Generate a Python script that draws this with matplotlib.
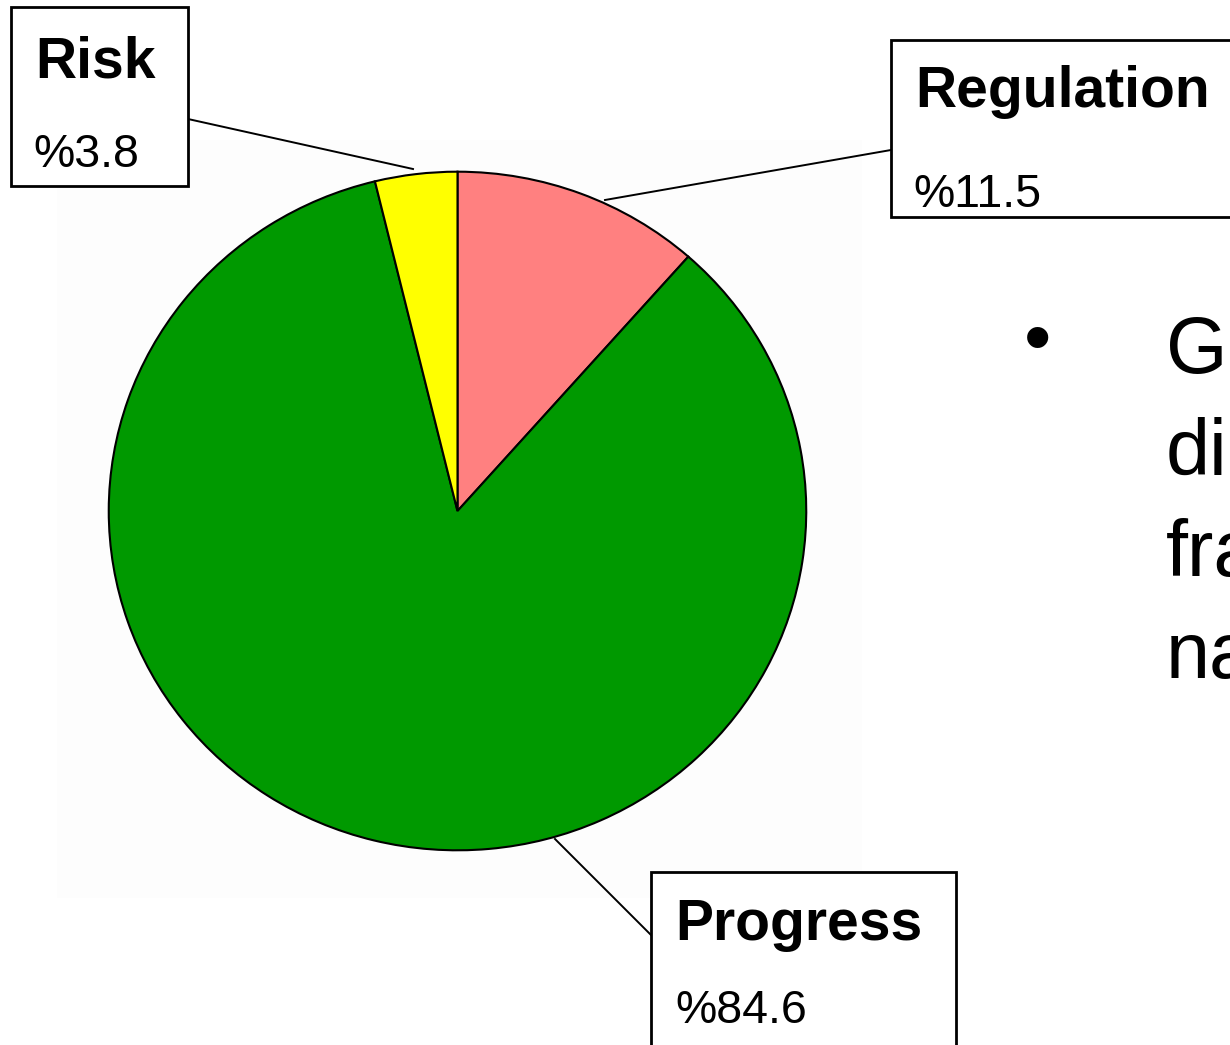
import matplotlib.pyplot as plt
from matplotlib.patches import Rectangle

# dilimler (saat yönünde, tepeden başlayarak)
etiketler = ['Regulation', 'Progress', 'Risk']
yuzdeler = [11.5, 84.6, 3.8]
renkler = ['#FF8080', '#009900', '#FFFF00']
yuzde_metin = ['%11.5', '%84.6', '%3.8']
madde_satirlari = ['G', 'di', 'fra', 'na']

W, H = 1230, 1045
fig = plt.figure(figsize=(W / 100, H / 100), dpi=100)
fig.patch.set_facecolor('white')

# piksel koordinatli ust katman
ax = fig.add_axes([0, 0, 1, 1])
ax.set_xlim(0, W)
ax.set_ylim(H, 0)
ax.axis('off')

# cok soluk arka plan
ax.add_patch(Rectangle((57, 140), 805, 758, facecolor='#fdfdfd', edgecolor='none', zorder=0))

# etiket kutulari: (sol, ust, sag, alt), baslik taban cizgisi, yuzde taban cizgisi
kutular = {
    'Risk': ((11, 7, 188, 186), (35, 77), (33, 167)),
    'Regulation': ((891, 40, 1260, 217), (915, 107), (913, 207)),
    'Progress': ((651, 872, 956, 1080), (675, 940), (675, 1023)),
}
# baglanti cizgileri
cizgiler = {
    'Risk': ((188, 119), (413, 169)),
    'Regulation': ((891, 150), (605, 200)),
    'Progress': ((651, 935), (555, 839)),
}

for ad, yz in zip(etiketler, yuzde_metin):
    (x0, y0, x1, y1), (tx, ty), (px, py) = kutular[ad]
    ax.add_patch(Rectangle((x0, y0), x1 - x0, y1 - y0, facecolor='white',
                           edgecolor='black', linewidth=2.0, zorder=3))
    ax.text(tx, ty, ad, fontsize=41, fontweight='bold', family='Liberation Sans',
            va='baseline', ha='left', zorder=4)
    ax.text(px, py, yz, fontsize=33.5, family='Liberation Sans',
            va='baseline', ha='left', zorder=4)
    (a, b), (c, d) = cizgiler[ad]
    ax.plot([a, c], [b, d], color='black', linewidth=1.4, zorder=2)

# sag taraftaki madde metni (kenarda kesiliyor)
ax.text(1038, 343, '\u2022', fontsize=56, family='Liberation Sans', ha='center', va='center')
for i, s in enumerate(madde_satirlari):
    ax.text(1166, 373 + i * 101.7, s, fontsize=57, family='Liberation Sans',
            va='baseline', ha='left')

# pasta grafigi
pax = fig.add_axes([107 / W, (H - 852) / H, 701 / W, 682 / H])
pax.pie(yuzdeler, colors=renkler, startangle=90, counterclock=False, radius=1,
        wedgeprops=dict(edgecolor='black', linewidth=1.5))
pax.set_xlim(-1.005, 1.005)
pax.set_ylim(-1.005, 1.005)
pax.set_aspect('auto')
pax.axis('off')

fig.savefig('out.png', dpi=100, facecolor='white')
